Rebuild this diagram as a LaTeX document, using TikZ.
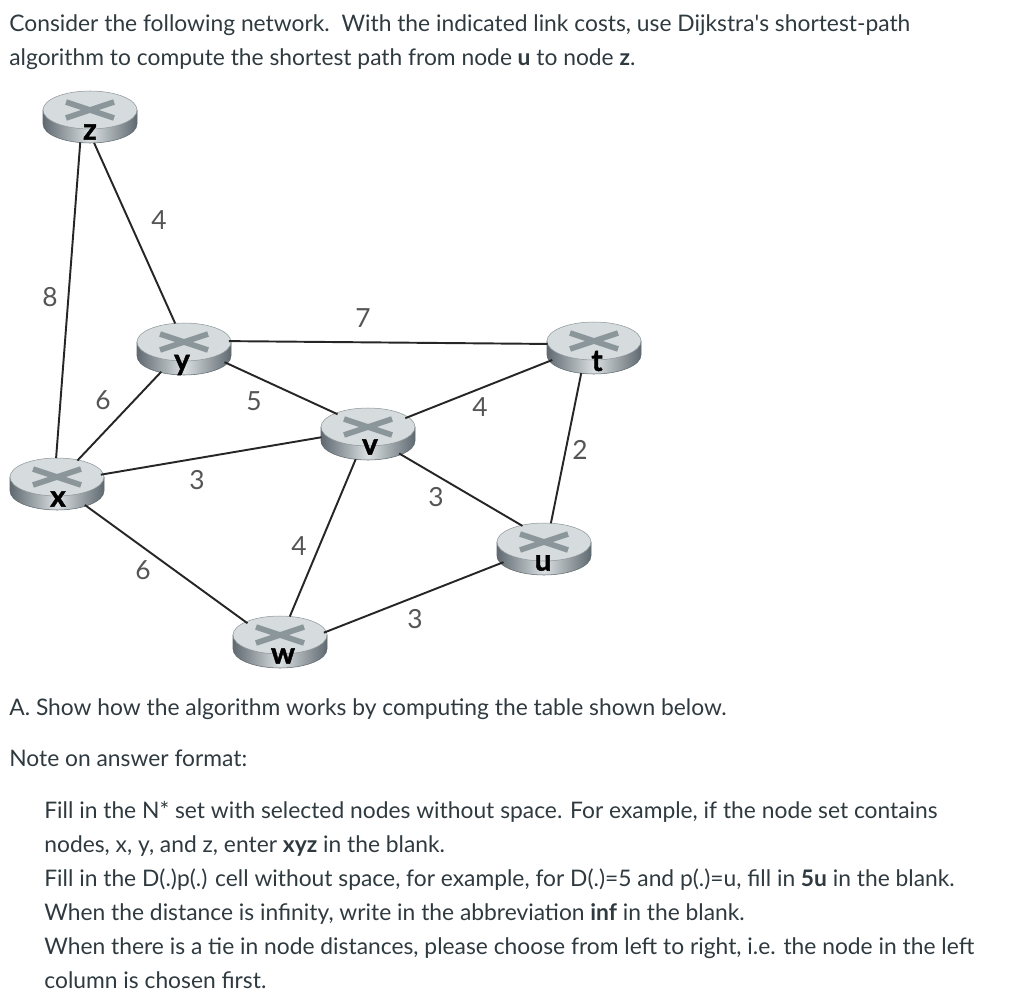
\documentclass[tikz,border=0pt]{standalone}
\usepackage{fontspec}
\setmainfont{Lato}
\newfontfamily\quotefont{Lato}
\newfontfamily\tagfont[BoldFeatures={FakeBold=1.5}]{Lato}
\usetikzlibrary{shapes.geometric}

\definecolor{bodytext}{HTML}{2F3A40}
\definecolor{routertop}{HTML}{D6DBDE}
\definecolor{routercross}{HTML}{8B969B}
\definecolor{routeredge}{HTML}{5F6A70}
\definecolor{weightgray}{HTML}{555555}

\tikzset{
    para/.style={anchor=base west, inner sep=0, text=bodytext, font=\fontsize{12.98}{16}\selectfont},
    weight/.style={inner sep=0, text=weightgray, font=\fontsize{15}{16}\selectfont},
    routertag/.style={inner sep=0, text=black, font=\tagfont\fontsize{17}{18}\selectfont\bfseries},
    routerarea/.style={ellipse, inner sep=0, outer sep=0, minimum width=1.88cm, minimum height=1.04cm},
    link/.style={draw=black!85, line width=1.1pt},
}

% name, position, tag, tag offset
\newcommand{\router}[4]{
    \begin{scope}[shift={#2}]
        \path[left color=routeredge, right color=routeredge, middle color=routertop!90!white, draw=routeredge, line width=.3pt]
            (-47,-7) -- (-47,7) arc (180:0:47 and 19) -- (47,-7) -- cycle;
        \path[fill=routertop, draw=routeredge!70, line width=.3pt] (0,-7) ellipse (47 and 19);
        \draw[routercross, line width=3.2pt] (-24,-15) -- (24,1);
        \draw[routercross, line width=3.2pt] (24,-15) -- (-24,1);
        \node[routerarea] (#1) at (0,0) {};
        \node[routertag] (#1tag) at #4 {#3};
    \end{scope}
}

\begin{document}
\begin{tikzpicture}[x=.02cm, y=-.02cm]
\useasboundingbox (0,0) rectangle (1024,1001);

\node[para] (line1) at (9,31.5) {Consider the following network.\ \ With the indicated link costs, use Dijkstra{\quotefont '}s shortest-path};
\node[para] (line2) at (9,65.5) {algorithm to compute the shortest path from node \textbf{u} to node \textbf{z}.};

\router{z}{(90,117)}{z}{(0,15)}
\router{y}{(184,349)}{y}{(-2,16)}
\router{v}{(368,434)}{v}{(2,13)}
\router{w}{(280,642)}{w}{(3,14)}
\router{u}{(544,549)}{u}{(-1,14)}
\router{x}{(57,484)}{x}{(1,15)}
\router{t}{(594,348)}{t}{(3,13)}

\draw[link] (z.249) -- (x.92);
\draw[link] (z.279) -- (y.109);
\draw[link] (x.49) -- (y.225);
\draw[link] (y.10) -- (t.175);
\draw[link] (y.342) -- (v.147);
\draw[link] (x.12) -- (v.184);
\draw[link] (x.323) -- (w.150);
\draw[link] (v.244) -- (w.69);
\draw[link] (v.23) -- (t.196);
\draw[link] (v.328) -- (u.133);
\draw[link] (t.243) -- (u.75);
\draw[link] (w.12) -- (u.198);

\node[weight] (zy) at (159,220) {4};
\node[weight] (zx) at (50,297) {8};
\node[weight] (yt) at (363,318) {7};
\node[weight] (xy) at (103,400) {6};
\node[weight] (yv) at (254,401) {5};
\node[weight] (vt) at (480,407) {4};
\node[weight] (tu) at (580,450) {2};
\node[weight] (xv) at (197,480) {3};
\node[weight] (vu) at (436,497) {3};
\node[weight] (vw) at (299,546) {4};
\node[weight] (xw) at (143,570) {6};
\node[weight] (wu) at (415,619) {3};

\node[para] (partA) at (9,715.5) {A. Show how the algorithm works by computing the table shown below.};
\node[para] (note) at (9,766.5) {Note on answer format:};

\node[para] (fill1) at (44,818.5) {Fill in the N* set with selected nodes without space. For example, if the node set contains};
\node[para] (fill2) at (44,852.5) {nodes, x, y, and z, enter \textbf{xyz} in the blank.};
\node[para] (fill3) at (44,886.5) {Fill in the D(.)p(.) cell without space, for example, for D(.)=5 and p(.)=u, fill in \textbf{5u} in the blank.};
\node[para] (fill4) at (44,920.5) {When the distance is infinity, write in the abbreviation \textbf{inf} in the blank.};
\node[para] (fill5) at (44,954.5) {When there is a tie in node distances, please choose from left to right, i.e. the node in the left};
\node[para] (fill6) at (44,988.5) {column is chosen first.};

\end{tikzpicture}
\end{document}
